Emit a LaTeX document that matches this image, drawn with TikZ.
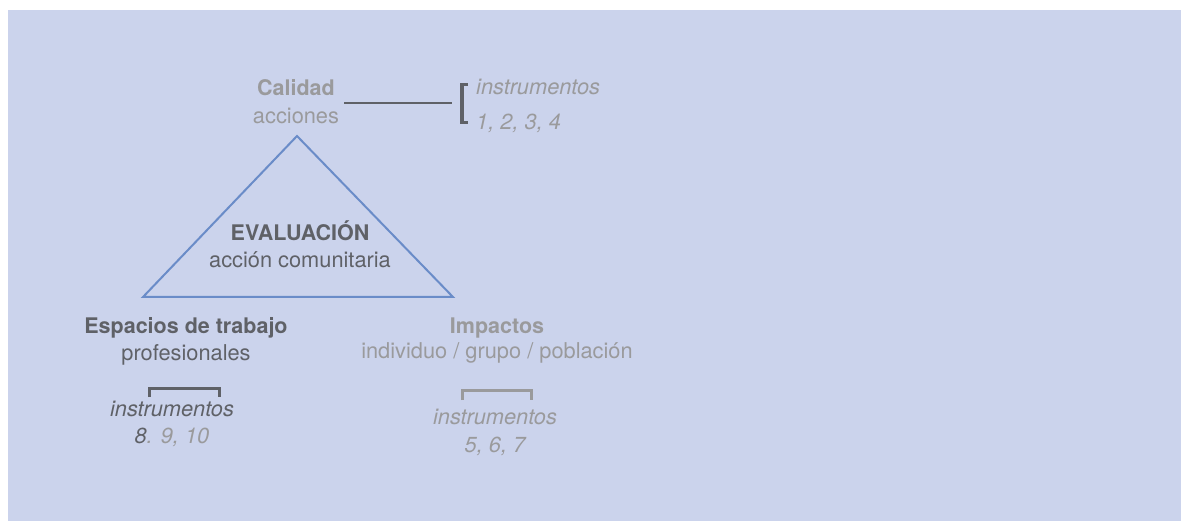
\documentclass[tikz,border=0pt]{standalone}
\usepackage{fontspec}
\setmainfont{TeX Gyre Heros}
\usetikzlibrary{positioning}
\definecolor{fondo}{HTML}{CBD3EC}
\definecolor{oscuro}{HTML}{5F6167}
\definecolor{claro}{HTML}{9A9A9C}
\definecolor{azul}{HTML}{6A8CC8}
\tikzset{
  texto/.style={inner sep=0pt, anchor=base, font=\fontsize{21.8}{26}\selectfont},
  titulo/.style={texto, font=\fontsize{21.5}{26}\selectfont\bfseries},
  instr/.style={texto, font=\fontsize{21.8}{26}\selectfont\itshape},
  corchete/.style={line width=3.5pt, line cap=butt},
}
\begin{document}
\begin{tikzpicture}[x=1pt,y=-1pt]
  \useasboundingbox (0,0) rectangle (1181,521);
  %fondo
  \fill[fondo] (8,10) rectangle (1181,521);

  %triangulo
  \coordinate (cima) at (297,136);
  \coordinate (izq) at (143,297);
  \coordinate (der) at (453,297);
  \draw[azul, line width=2pt, line join=miter] (cima) -- (izq) -- (der) -- cycle;
  \node[titulo, oscuro] (eval) at (300,241) {EVALUACIÓN};
  \node[texto, oscuro] (accion) at (300,268) {acción comunitaria};

  %calidad
  \node[titulo, claro] (calidad) at (296,96) {Calidad};
  \node[texto, claro] (acciones) at (296,124) {acciones};
  \node[instr, claro, anchor=base west] (instrA) at (476,95) {instrumentos};
  \node[instr, claro, anchor=base west] (numA) at (476,130) {1, 2, 3, 4};
  \coordinate (corA) at (452,103);
  \draw[oscuro, line width=2.5pt] ([xshift=5pt]acciones.east |- corA) -- (corA);
  \draw[corchete, oscuro] (468,84.5) -- (462,84.5) -- (462,122.5) -- (468,122.5);

  %espacios de trabajo
  \node[titulo, oscuro] (espacios) at (186,334) {Espacios de trabajo};
  \node[texto, oscuro] (prof) at (186,360) {profesionales};
  \draw[corchete, oscuro] (149.5,397) -- (149.5,388.5) -- (219.5,388.5) -- (219.5,397);
  \node[instr, oscuro] (instrB) at (172,416) {instrumentos};
  \node[instr, claro] (numB) at (172,443) {\textcolor{oscuro}{8}. 9, 10};

  %impactos
  \node[titulo, claro] (impactos) at (497,334) {Impactos};
  \node[texto, claro] (indiv) at (497,359) {individuo / grupo / población};
  \draw[corchete, claro] (462.5,400) -- (462.5,390.5) -- (531.5,390.5) -- (531.5,400);
  \node[instr, claro] (instrC) at (495,424) {instrumentos};
  \node[instr, claro] (numC) at (495,452) {5, 6, 7};
\end{tikzpicture}
\end{document}
